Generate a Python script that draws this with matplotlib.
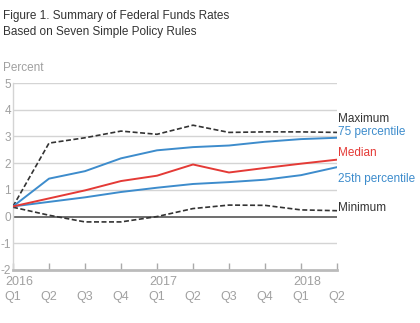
import numpy as np
import matplotlib.pyplot as plt
from matplotlib.transforms import offset_copy

plt.rcParams['font.family'] = ['Liberation Sans', 'DejaVu Sans']

# Quarters 2016Q1 .. 2018Q2
quarters = ["Q1", "Q2", "Q3", "Q4", "Q1", "Q2", "Q3", "Q4", "Q1", "Q2"]
years = {0: "2016", 4: "2017", 8: "2018"}

maximum = [0.38, 2.75, 2.95, 3.20, 3.08, 3.42, 3.15, 3.17, 3.17, 3.15]
p75 = [0.38, 1.42, 1.70, 2.18, 2.48, 2.60, 2.66, 2.80, 2.90, 2.95]
median = [0.38, 0.68, 0.98, 1.33, 1.53, 1.95, 1.65, 1.82, 1.98, 2.13]
p25 = [0.38, 0.55, 0.72, 0.92, 1.08, 1.22, 1.29, 1.38, 1.55, 1.85]
minimum = [0.35, 0.05, -0.20, -0.20, 0.00, 0.30, 0.43, 0.42, 0.25, 0.22]

blue = "#3d8ccc"
red = "#e43a36"
dark = "#333333"
gray = "#a0a0a0"

fig = plt.figure(figsize=(4.2, 3.23), dpi=100)
ax = fig.add_axes([13 / 420, 1 - 270 / 323, 324 / 420, 187 / 323])

x = np.arange(len(quarters))

# grid lines
for g in [-1, 1, 2, 3, 4, 5]:
    ax.axhline(g, color="#d4d4d4", linewidth=1, zorder=1)
ax.axhline(0, color="#555555", linewidth=1.2, zorder=2)

ax.plot(x, maximum, color=dark, linestyle=(0, (3, 1.5)), linewidth=1.2, zorder=3)
ax.plot(x, minimum, color=dark, linestyle=(0, (3, 1.5)), linewidth=1.2, zorder=3)
ax.plot(x, p75, color=blue, linewidth=1.4, zorder=4)
ax.plot(x, p25, color=blue, linewidth=1.4, zorder=4)
ax.plot(x, median, color=red, linewidth=1.4, zorder=5)

ax.set_xlim(0, len(quarters) - 1)
ax.set_ylim(-2, 5)

for s in ["top", "right"]:
    ax.spines[s].set_visible(False)
ax.spines["left"].set_color("#d4d4d4")
ax.spines["left"].set_linewidth(1)
ax.spines["bottom"].set_color("#bbbbbb")
ax.spines["bottom"].set_linewidth(2)

ax.set_yticks(range(-2, 6))
ax.set_yticklabels([str(v) for v in range(-2, 6)])
ax.tick_params(axis="y", length=0, pad=1.5, labelsize=8.5, labelcolor=gray)

ax.set_xticks(x)
ax.set_xticklabels(quarters)
ax.tick_params(axis="x", direction="in", length=5, width=1, color="#aaaaaa",
               labelsize=9, labelcolor=gray, pad=15)

# year labels above the quarter labels
year_tr = offset_copy(ax.get_xaxis_transform(), fig=fig, x=-5.5, y=-4, units="points")
for i, yr in years.items():
    ax.text(i, 0, yr, transform=year_tr, ha="left", va="top",
            fontsize=9, color=gray)

# series labels on the right
lab_x = len(quarters) - 1 + 0.02
ax.text(lab_x, 3.66, "Maximum", color=dark, fontsize=8.5, va="center", clip_on=False)
ax.text(lab_x, 3.15, "75 percentile", color=blue, fontsize=8.5, va="center", clip_on=False)
ax.text(lab_x, 2.39, "Median", color=red, fontsize=8.5, va="center", clip_on=False)
ax.text(lab_x, 1.42, "25th percentile", color=blue, fontsize=8.5, va="center", clip_on=False)
ax.text(lab_x, 0.33, "Minimum", color=dark, fontsize=8.5, va="center", clip_on=False)

fig.text(3 / 420, 1 - 16 / 323, "Figure 1. Summary of Federal Funds Rates",
         fontsize=8.5, color="#333333", va="center")
fig.text(3 / 420, 1 - 32 / 323, "Based on Seven Simple Policy Rules",
         fontsize=8.5, color="#333333", va="center")
fig.text(3 / 420, 1 - 68 / 323, "Percent", fontsize=8.5, color=gray, va="center")

fig.savefig("out.png", dpi=100)
